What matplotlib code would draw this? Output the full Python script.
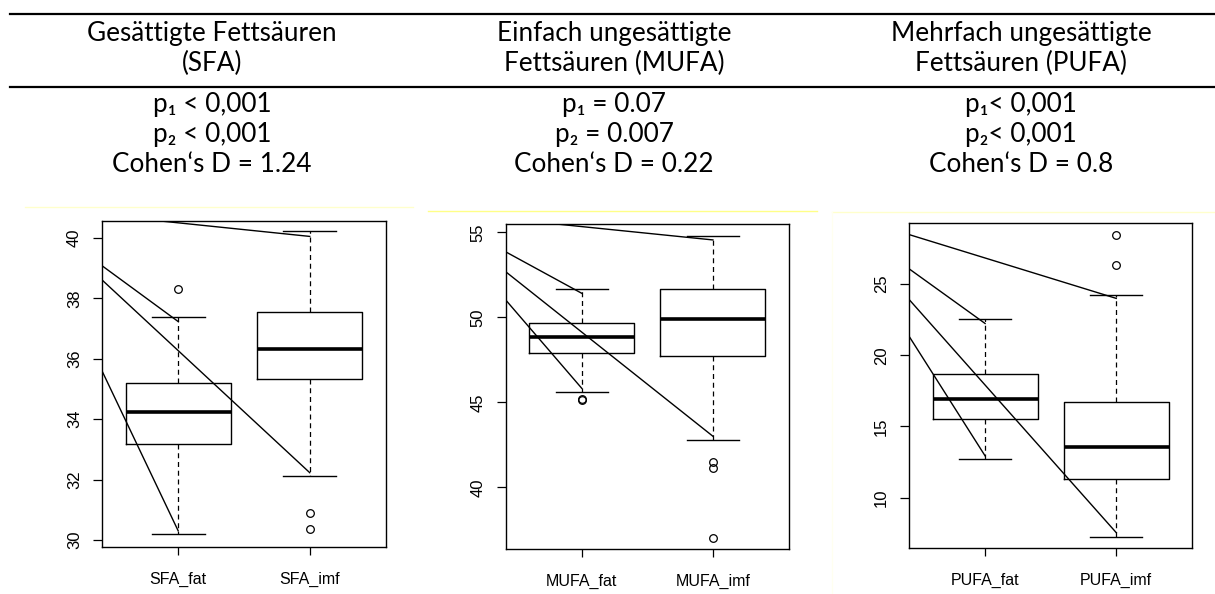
import matplotlib
matplotlib.use("Agg")
import matplotlib.pyplot as plt
from matplotlib.lines import Line2D

# ---------------- data ----------------
header_titles = ["Gesättigte Fettsäuren\n(SFA)",
                 "Einfach ungesättigte\nFettsäuren (MUFA)",
                 "Mehrfach ungesättigte\nFettsäuren (PUFA)"]
p1_texts = ["p\u2081 < 0,001", "p\u2081 = 0.07", "p\u2081< 0,001"]
p2_texts = ["p\u2082 < 0,001", "p\u2082 = 0.007", "p\u2082< 0,001"]
cohen_texts = ["Cohen\u2018s D = 1.24", "Cohen\u2018s D = 0.22", "Cohen\u2018s D = 0.8"]

sfa_labels = ["SFA_fat", "SFA_imf"]
sfa_lower_whisker = [30.19, 32.11]
sfa_q1 = [33.17, 35.32]
sfa_median = [34.25, 36.31]
sfa_q3 = [35.21, 37.56]
sfa_upper_whisker = [37.37, 40.22]
sfa_outliers = [[38.30], [30.88, 30.37]]
sfa_yticks = [30, 32, 34, 36, 38, 40]
sfa_conn_start_y = [40.76, 39.08, 38.61, 35.60]
sfa_conn_end_x = [2, 1, 2, 1]
sfa_conn_end_y = [40.05, 37.23, 32.23, 30.30]

mufa_labels = ["MUFA_fat", "MUFA_imf"]
mufa_lower_whisker = [45.58, 42.78]
mufa_q1 = [47.88, 47.72]
mufa_median = [48.82, 49.90]
mufa_q3 = [49.68, 51.65]
mufa_upper_whisker = [51.65, 54.78]
mufa_outliers = [[45.20, 45.12], [41.47, 41.15, 37.04]]
mufa_yticks = [40, 45, 50, 55]
mufa_conn_start_y = [55.79, 53.85, 52.68, 51.02]
mufa_conn_end_x = [2, 1, 2, 1]
mufa_conn_end_y = [54.55, 51.41, 43.00, 45.82]

pufa_labels = ["PUFA_fat", "PUFA_imf"]
pufa_lower_whisker = [12.70, 7.24]
pufa_q1 = [15.49, 11.30]
pufa_median = [16.90, 13.53]
pufa_q3 = [18.65, 16.73]
pufa_upper_whisker = [22.53, 24.24]
pufa_outliers = [[], [26.33, 28.44]]
pufa_yticks = [10, 15, 20, 25]
pufa_conn_start_y = [28.47, 26.07, 23.92, 21.34]
pufa_conn_end_x = [2, 1, 2, 1]
pufa_conn_end_y = [23.99, 22.23, 7.55, 12.94]

# ---------------- figure ----------------
W, H = 1215, 594
fig = plt.figure(figsize=(W / 100, H / 100), dpi=100)
fig.patch.set_facecolor("white")

HEAD_FONT = ["Lato", "DejaVu Sans"]
HEAD_SIZE = 18.8
AX_FONT = "Liberation Sans"

def fx(x):
    return x / W

def fy(y):
    return 1 - y / H

# header rules
for yy in (14, 87):
    fig.add_artist(Line2D([fx(10), fx(1215)], [fy(yy), fy(yy)], color="black", lw=1.6))

col_centers = [212, 614, 1021]
for i, cx in enumerate(col_centers):
    t1, t2 = header_titles[i].split("\n")
    rows = [(41.5, t1), (71.5, t2), (112, p1_texts[i]), (142, p2_texts[i]), (172.5, cohen_texts[i])]
    for yy, txt in rows:
        fig.text(fx(cx), fy(yy), txt, ha="center", va="baseline",
                 fontsize=HEAD_SIZE, family=HEAD_FONT)

# faint yellow picture borders
fig.add_artist(Line2D([fx(25), fx(413)], [fy(207), fy(207)], color="#ffffcc", lw=1))
fig.add_artist(Line2D([fx(428), fx(817)], [fy(210.7), fy(210.7)], color="#ffff88", lw=1))
fig.add_artist(Line2D([fx(832), fx(1215)], [fy(211.7), fy(211.7)], color="#ffffcc", lw=1))
fig.add_artist(Line2D([fx(832), fx(832)], [fy(211.7), fy(594)], color="#fffff0", lw=1))

panels = [
    dict(box=(102, 221, 386, 547), ylim=(29.77, 40.56), labels=sfa_labels,
         lo=sfa_lower_whisker, q1=sfa_q1, med=sfa_median, q3=sfa_q3, hi=sfa_upper_whisker,
         out=sfa_outliers, yticks=sfa_yticks,
         cs=sfa_conn_start_y, cex=sfa_conn_end_x, cey=sfa_conn_end_y),
    dict(box=(505.7, 224.3, 789, 549.3), ylim=(36.35, 55.47), labels=mufa_labels,
         lo=mufa_lower_whisker, q1=mufa_q1, med=mufa_median, q3=mufa_q3, hi=mufa_upper_whisker,
         out=mufa_outliers, yticks=mufa_yticks,
         cs=mufa_conn_start_y, cex=mufa_conn_end_x, cey=mufa_conn_end_y),
    dict(box=(909, 223.3, 1192.3, 548.3), ylim=(6.45, 29.26), labels=pufa_labels,
         lo=pufa_lower_whisker, q1=pufa_q1, med=pufa_median, q3=pufa_q3, hi=pufa_upper_whisker,
         out=pufa_outliers, yticks=pufa_yticks,
         cs=pufa_conn_start_y, cex=pufa_conn_end_x, cey=pufa_conn_end_y),
]

XLIM = (0.42, 2.58)
for p in panels:
    x0, y0, x1, y1 = p["box"]
    ax = fig.add_axes([fx(x0), fy(y1), (x1 - x0) / W, (y1 - y0) / H])
    stats = []
    for k in range(2):
        stats.append(dict(whislo=p["lo"][k], q1=p["q1"][k], med=p["med"][k],
                          q3=p["q3"][k], whishi=p["hi"][k], fliers=p["out"][k]))
    ax.bxp(stats, positions=[1, 2], widths=0.8, capwidths=0.4, showfliers=True,
           boxprops=dict(color="black", lw=1.0),
           medianprops=dict(color="black", lw=2.6, solid_capstyle="butt"),
           whiskerprops=dict(color="black", lw=0.9, linestyle=(0, (4, 3))),
           capprops=dict(color="black", lw=1.0),
           flierprops=dict(marker="o", markersize=5.5, markerfacecolor="none",
                           markeredgecolor="black", markeredgewidth=0.9, linestyle="none"))
    # connector lines
    for sy, ex, ey in zip(p["cs"], p["cex"], p["cey"]):
        ax.plot([XLIM[0], ex], [sy, ey], color="black", lw=1.0, clip_on=True)
    ax.set_xlim(*XLIM)
    ax.set_ylim(*p["ylim"])
    ax.set_xticks([1, 2])
    ax.set_xticklabels(p["labels"], fontsize=11.5, family=AX_FONT)
    ax.set_yticks(p["yticks"])
    ax.set_yticklabels([str(v) for v in p["yticks"]], fontsize=12, family=AX_FONT,
                       rotation=90, va="center")
    ax.tick_params(axis="x", length=6, width=0.9, pad=12)
    ax.tick_params(axis="y", length=6.5, width=0.9, pad=8)
    for s in ax.spines.values():
        s.set_linewidth(1.0)
        s.set_color("black")

fig.savefig("out.png", dpi=100, facecolor="white")
